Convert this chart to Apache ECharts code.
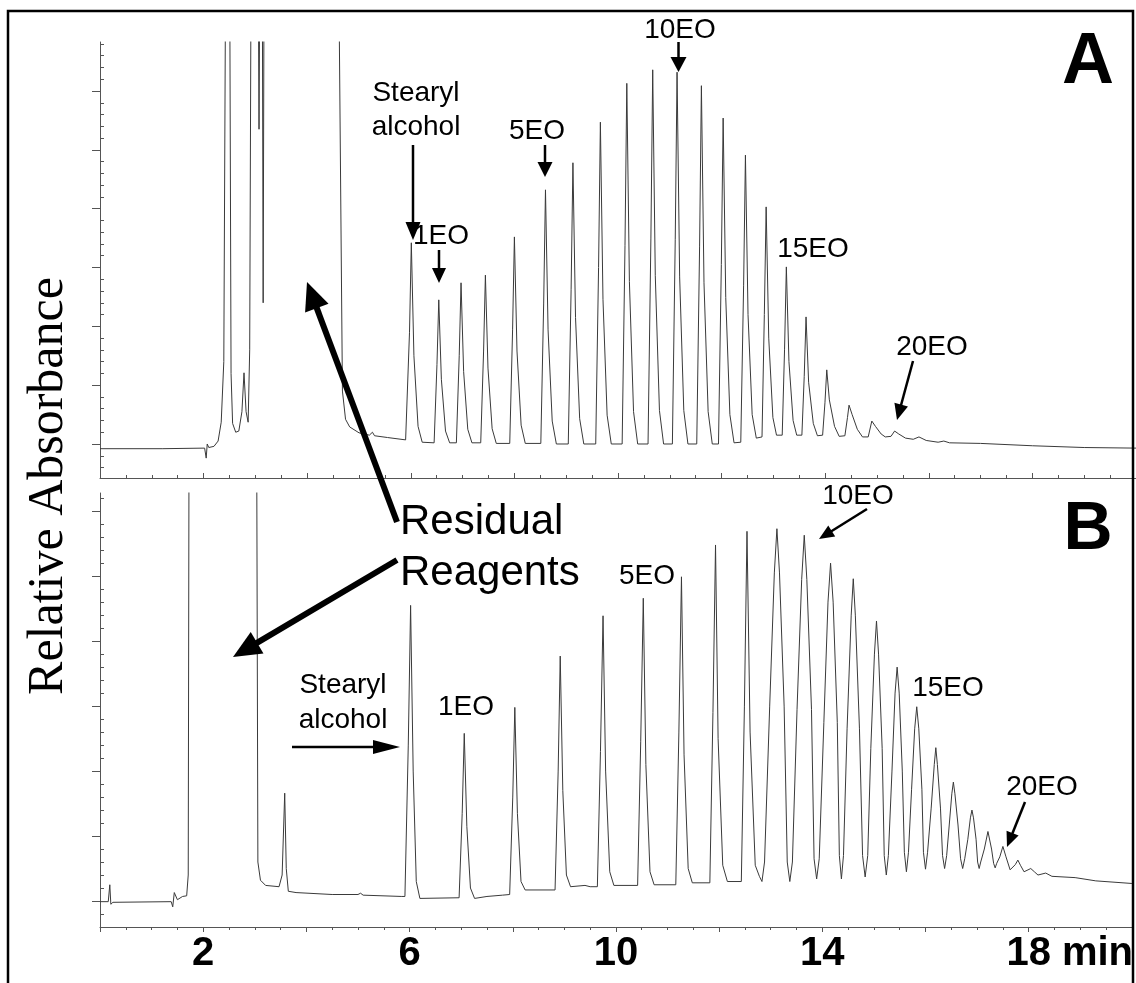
<!DOCTYPE html>
<html>
<head>
<meta charset="utf-8">
<script src="https://cdn.jsdelivr.net/npm/echarts@6/dist/echarts.min.js"></script>
<style>
html,body{margin:0;padding:0;background:#fff}
#chart{width:1136px;height:983px}
</style>
</head>
<body>
<div id="chart"></div>
<script>
// panel A, [minutes, relative absorbance]; values above 7 are off scale
var aReagents = [[0,-0.08],[1.2,-0.08],[2.02,-0.07],[2.05,-0.24],[2.07,0.0],[2.1,-0.06],[2.2,-0.04],[2.28,0.05],
  [2.34,0.37],[2.39,1.4],[2.43,9],[2.5,9],[2.53,1.2],[2.56,0.35],[2.62,0.2],[2.68,0.22],[2.74,0.55],[2.78,1.21],
  [2.82,0.55],[2.86,0.37],[2.89,1.6],[2.92,9],[3.05,9],[3.07,5.35],[3.09,9],[3.13,9],[3.15,2.4],[3.17,9],[4.6,9],
  [4.68,0.9],[4.74,0.42],[4.82,0.29],[5.0,0.19],[5.2,0.15],[5.26,0.2],[5.3,0.14],[5.55,0.11],[5.9,0.07]];
var aOligomers = [
  [5.92,0.05],[5.975,1.9],[6.01,3.42],[6.06,1.5],[6.14,0.3],[6.22,0.03],
  [6.45,0.02],[6.505,1.35],[6.54,2.45],[6.59,1.1],[6.67,0.22],[6.75,0.02],
  [6.88,0.02],[6.935,1.5],[6.97,2.74],[7.02,1.23],[7.1,0.25],[7.18,0.02],
  [7.35,0.02],[7.405,1.58],[7.44,2.87],[7.49,1.29],[7.57,0.26],[7.65,0.01],
  [7.91,0.01],[7.965,1.94],[8.0,3.52],[8.05,1.58],[8.13,0.32],[8.21,0.01],
  [8.51,0.01],[8.565,2.38],[8.6,4.32],[8.65,1.94],[8.73,0.39],[8.81,0.0],
  [9.04,0.0],[9.095,2.63],[9.13,4.78],[9.18,2.15],[9.26,0.43],[9.34,0.0],
  [9.57,0.0],[9.625,3.0],[9.66,5.47],[9.71,2.46],[9.79,0.49],[9.87,0.0],
  [10.08,0.0],[10.135,3.37],[10.17,6.13],[10.22,2.76],[10.3,0.55],[10.38,0.0],
  [10.58,0.0],[10.635,3.5],[10.67,6.36],[10.72,2.86],[10.8,0.57],[10.88,0.0],
  [11.05,0.0],[11.105,3.48],[11.14,6.32],[11.19,2.84],[11.27,0.57],[11.35,0.0],
  [11.52,0.0],[11.575,3.35],[11.61,6.09],[11.66,2.74],[11.74,0.55],[11.82,0.0],
  [11.94,0.0],[11.995,3.05],[12.03,5.54],[12.08,2.49],[12.16,0.5],[12.24,0.02],
  [12.37,0.03],[12.425,2.7],[12.46,4.91],[12.51,2.2],[12.59,0.5],[12.67,0.1],
  [12.78,0.12],[12.825,2.2],[12.86,4.03],[12.91,1.8],[12.99,0.45],[13.06,0.15],
  [13.17,0.15],[13.215,1.6],[13.25,3.01],[13.3,1.4],[13.38,0.4],[13.45,0.15],
  [13.55,0.15],[13.595,1.15],[13.63,2.16],[13.68,1.05],[13.77,0.35],[13.85,0.14],
  [13.95,0.15],[13.995,0.7],[14.03,1.26],[14.08,0.75],[14.18,0.3],[14.27,0.13],
  [14.38,0.14],[14.43,0.45],[14.46,0.66],[14.52,0.5],[14.62,0.25],[14.72,0.12],
  [14.83,0.12],[14.9,0.39],[14.97,0.3],[15.08,0.17],[15.16,0.12],
  [15.27,0.13],[15.34,0.22],[15.42,0.17],[15.55,0.1],
  [15.7,0.08],[15.81,0.12],[15.95,0.06],
  [16.18,0.03],[16.29,0.05],[16.4,0.02],
  [17.0,0.01],[18.0,-0.03],[19.0,-0.06],[20,-0.07]];

// panel B
var bReagents = [[0,-0.01],[0.16,-0.01],[0.19,0.25],[0.21,-0.05],[0.25,-0.02],[1.38,-0.01],[1.41,-0.09],[1.44,0.13],
  [1.5,0.02],[1.6,0.07],[1.68,0.08],[1.71,0.4],[1.73,9],[3.03,9],[3.06,0.6],[3.11,0.32],[3.21,0.24],[3.47,0.22],
  [3.53,0.4],[3.58,1.66],[3.61,0.5],[3.65,0.15],[3.8,0.13],[4.5,0.1],[5.0,0.1],[5.05,0.12],[5.1,0.09],[5.85,0.07]];
var bOligomers = [
  [5.91,0.07],[5.975,2.4],[6.02,4.55],[6.07,2.0],[6.13,0.3],[6.2,0.04],
  [6.96,0.05],[7.02,1.35],[7.06,2.58],[7.11,1.15],[7.18,0.2],[7.26,0.04],[7.5,0.07],[7.8,0.09],
  [7.94,0.1],[8.0,1.6],[8.04,2.98],[8.09,1.35],[8.16,0.3],[8.24,0.17],
  [8.82,0.17],[8.88,2.0],[8.92,3.77],[8.97,1.7],[9.04,0.4],[9.12,0.22],[9.4,0.24],[9.5,0.22],
  [9.64,0.22],[9.7,2.3],[9.75,4.39],[9.8,2.0],[9.88,0.45],[9.96,0.24],
  [10.42,0.24],[10.48,2.45],[10.53,4.66],[10.58,2.1],[10.66,0.45],[10.74,0.25],
  [11.16,0.25],[11.22,2.6],[11.27,4.99],[11.32,2.25],[11.4,0.5],[11.48,0.28],
  [11.82,0.28],[11.88,2.9],[11.93,5.48],[11.98,2.5],[12.07,0.55],[12.16,0.3],
  [12.43,0.3],[12.49,3.0],[12.54,5.69],[12.6,2.6],[12.7,0.55],[12.78,0.38],[12.83,0.3],[12.88,0.6],
  [12.98,3.0],[13.07,5.05],[13.12,5.73],[13.17,5.05],[13.26,3.0],
  [13.32,0.6],[13.37,0.3],[13.42,0.6],
  [13.51,2.95],[13.6,4.95],[13.65,5.63],[13.7,4.95],[13.79,2.95],
  [13.84,0.65],[13.89,0.34],[13.94,0.65],
  [14.03,2.75],[14.11,4.6],[14.16,5.2],[14.21,4.6],[14.29,2.75],
  [14.33,0.7],[14.37,0.34],[14.41,0.7],
  [14.48,2.65],[14.56,4.4],[14.6,4.96],[14.64,4.4],[14.72,2.65],
  [14.78,0.7],[14.83,0.37],[14.88,0.7],
  [14.94,2.35],[15.01,3.8],[15.05,4.31],[15.09,3.8],[15.16,2.35],
  [15.2,0.7],[15.24,0.4],[15.28,0.7],
  [15.35,2.0],[15.41,3.2],[15.45,3.6],[15.49,3.2],[15.55,2.0],
  [15.59,0.75],[15.63,0.45],[15.67,0.75],
  [15.73,1.72],[15.79,2.65],[15.83,2.99],[15.87,2.65],[15.93,1.72],
  [15.96,0.75],[16.0,0.49],[16.04,0.75],
  [16.11,1.43],[16.17,2.1],[16.2,2.36],[16.23,2.1],[16.29,1.43],
  [16.33,0.7],[16.37,0.5],[16.41,0.7],
  [16.46,1.17],[16.51,1.65],[16.54,1.83],[16.57,1.65],[16.63,1.17],
  [16.68,0.65],[16.72,0.5],[16.76,0.65],
  [16.82,0.95],[16.87,1.28],[16.9,1.4],[16.93,1.28],[16.98,0.95],
  [17.01,0.6],[17.04,0.5],[17.07,0.6],
  [17.14,0.8],[17.21,1.07],[17.28,0.8],
  [17.32,0.58],[17.35,0.51],[17.38,0.58],
  [17.44,0.68],[17.5,0.84],[17.56,0.68],[17.64,0.48],
  [17.74,0.56],[17.79,0.63],[17.84,0.55],[17.91,0.45],
  [18.04,0.5],[18.11,0.45],[18.18,0.4],
  [18.33,0.43],[18.45,0.38],[18.9,0.36],[19.3,0.31],[20,0.27]];

var xLabelTicks = [2, 6, 10, 14, 18];
var yMajorTicks = [0, 1, 2, 3, 4, 5, 6];

var rangeA = [-0.578, 6.833];
var rangeB = [-0.4, 6.28];

function minorTicks(lo, hi) {
    var out = [];
    for (var i = Math.ceil(lo * 5); i <= Math.floor(hi * 5); i++) {
        if (i % 5 !== 0) out.push(i / 5);
    }
    return out;
}

var axisColor = '#555';
var traceColor = '#3a3a3a';

function xAxisFor(grid, withLabels) {
    return {
        type: 'value', gridIndex: grid, min: 0, max: 20, interval: 2,
        axisLine: {onZero: false, lineStyle: {color: axisColor, width: 1}},
        axisTick: {inside: !withLabels, length: 5, lineStyle: {color: axisColor}},
        minorTick: {show: true, splitNumber: 4, length: 3, lineStyle: {color: axisColor}},
        splitLine: {show: false},
        axisLabel: withLabels ? {
            customValues: xLabelTicks,
            margin: 7,
            fontSize: 40, fontWeight: 'bold', fontFamily: 'Liberation Sans, Arial', color: '#000',
            formatter: function (v) { return v === 18 ? '{n|18}{m|min}' : String(v); },
            rich: {
                n: {fontSize: 40, fontWeight: 'bold', fontFamily: 'Liberation Sans, Arial', color: '#000', padding: [0, 0, 0, 82]},
                m: {fontSize: 40, fontWeight: 'bold', fontFamily: 'Liberation Sans, Arial', color: '#000', padding: [0, 0, 0, 11]}
            }
        } : {show: false}
    };
}

function yAxesFor(grid, range) {
    return [{
        type: 'value', gridIndex: grid, min: range[0], max: range[1],
        axisLine: {show: true, onZero: false, lineStyle: {color: axisColor, width: 1}},
        axisTick: {show: true, length: 8, customValues: yMajorTicks, lineStyle: {color: axisColor}},
        axisLabel: {show: false},
        splitLine: {show: false}
    }, {
        type: 'value', gridIndex: grid, min: range[0], max: range[1],
        axisLine: {show: false},
        axisTick: {show: true, length: 4, customValues: minorTicks(range[0], range[1]), lineStyle: {color: axisColor}},
        axisLabel: {show: false},
        splitLine: {show: false}
    }];
}

// annotation helpers (pixel positions)
function arrow(x1, y1, x2, y2, w, hl, hw) {
    var a = Math.atan2(y2 - y1, x2 - x1), c = Math.cos(a), s = Math.sin(a);
    var bx = x2 - hl * c, by = y2 - hl * s;
    return [
        {type: 'line', z: 100, shape: {x1: x1, y1: y1, x2: x2 - hl * 0.5 * c, y2: y2 - hl * 0.5 * s},
            style: {stroke: '#000', lineWidth: w}},
        {type: 'polygon', z: 100, shape: {points: [[x2, y2], [bx + hw / 2 * s, by - hw / 2 * c], [bx - hw / 2 * s, by + hw / 2 * c]]},
            style: {fill: '#000'}}
    ];
}
function label(text, x, y, size, opts) {
    opts = opts || {};
    return {
        type: 'text', z: 100, x: x, y: y,
        style: {
            text: text, fill: '#000',
            font: (opts.bold ? 'bold ' : '') + size + 'px ' + (opts.family || '"Liberation Sans", Arial, sans-serif'),
            align: opts.align || 'center', verticalAlign: 'middle',
            lineHeight: opts.lineHeight || size
        }
    };
}

var elements = [
    {type: 'rect', z: 100, shape: {x: 8, y: 11, width: 1125, height: 1100}, style: {fill: 'none', stroke: '#000', lineWidth: 2.5}},
    {type: 'text', z: 100, x: 49, y: 486, rotation: Math.PI / 2,
        style: {text: 'Relative Absorbance', fill: '#000', font: '50px "Liberation Serif", "Times New Roman", serif',
            align: 'center', verticalAlign: 'middle'}},
    // panel A
    label('Stearyl\nalcohol', 416, 110, 28, {lineHeight: 34}),
    label('1EO', 441, 236, 28),
    label('5EO', 537, 131, 28),
    label('10EO', 680, 30, 28),
    label('15EO', 813, 249, 28),
    label('20EO', 932, 347, 28),
    label('A', 1088, 63, 72, {bold: true}),
    label('Residual', 400, 522, 42, {align: 'left'}),
    label('Reagents', 400, 573, 42, {align: 'left'}),
    // panel B
    label('Stearyl\nalcohol', 343, 703, 28, {lineHeight: 35}),
    label('1EO', 466, 707, 28),
    label('5EO', 647, 576, 28),
    label('10EO', 858, 496, 28),
    label('15EO', 948, 688, 28),
    label('20EO', 1042, 787, 28),
    label('B', 1088, 530, 68, {bold: true})
];
elements = elements
    .concat(arrow(413, 145, 413, 240, 2.5, 18, 15))
    .concat(arrow(439, 250, 439, 283, 2.5, 15, 14))
    .concat(arrow(545, 145, 545, 177, 2.5, 15, 15))
    .concat(arrow(678.5, 42, 678.5, 72, 2.5, 15, 16))
    .concat(arrow(913, 361, 897, 420, 2.5, 16, 14))
    .concat(arrow(397, 522, 307, 282, 6, 28, 25))
    .concat(arrow(397, 560, 233, 657, 6, 28, 25))
    .concat(arrow(292, 747, 400, 747, 2.5, 27, 14))
    .concat(arrow(867, 509, 819, 539, 2.5, 15, 13))
    .concat(arrow(1025, 802, 1007, 847, 2.5, 15, 13));

var option = {
    animation: false,
    backgroundColor: '#fff',
    grid: [
        {left: 100, top: 42, right: 0, height: 436},
        {left: 100, top: 493, right: 0, height: 434}
    ],
    xAxis: [xAxisFor(0, false), xAxisFor(1, true)],
    yAxis: yAxesFor(0, rangeA).concat(yAxesFor(1, rangeB)),
    series: [{
        name: 'A', type: 'line', xAxisIndex: 0, yAxisIndex: 0,
        data: aReagents.concat(aOligomers),
        showSymbol: false, symbol: 'none', clip: true,
        lineStyle: {color: traceColor, width: 1}
    }, {
        name: 'B', type: 'line', xAxisIndex: 1, yAxisIndex: 2,
        data: bReagents.concat(bOligomers),
        showSymbol: false, symbol: 'none', clip: true,
        lineStyle: {color: traceColor, width: 1}
    }],
    graphic: {elements: elements}
};

var chart = echarts.init(document.getElementById('chart'));
chart.setOption(option);
</script>
</body>
</html>
